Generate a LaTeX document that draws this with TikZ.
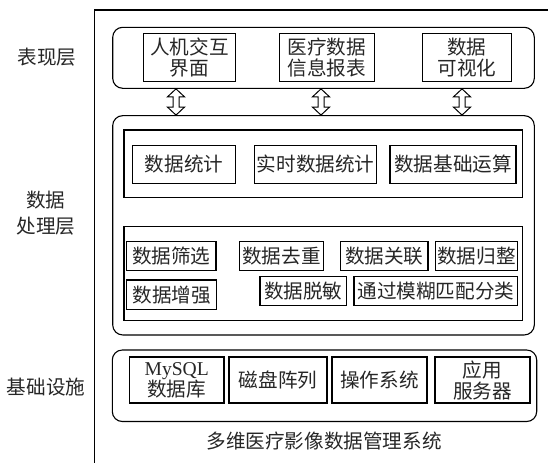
\documentclass[tikz,border=0pt]{standalone}
\usepackage{fontspec}
\setmainfont{Liberation Serif}
\newfontfamily\cjk{Noto Sans CJK SC}
\usetikzlibrary{calc}
\newcommand\dblarrow[3]{%
  \draw[harrow] let \p1=(#1.south), \p2=(#2.north) in
    (#3pt,\y1) -- ++(8.5pt,-8pt) -- ++(-5.5pt,0pt) -- (#3pt+3pt,\y2+8pt)
    -- ++(5.5pt,0pt) -- (#3pt,\y2) -- ++(-8.5pt,8pt) -- ++(5.5pt,0pt)
    -- (#3pt-3pt,\y1-8pt) -- ++(-5.5pt,0pt) -- cycle;}
\begin{document}
\begin{tikzpicture}[x=1pt,y=-1pt,
  lw/.style={line width=1.1pt},
  layerbox/.style={draw, line width=1.1pt, rounded corners=10pt, inner sep=0pt},
  groupbox/.style={draw, line width=1.1pt, inner sep=0pt},
  item/.style={draw, line width=1.1pt, inner sep=0pt, align=center,
    font=\cjk\fontsize{19.6}{21}\selectfont, text=black!85},
  lbl/.style={inner sep=0pt, align=center, font=\cjk\fontsize{19.6}{26}\selectfont, text=black!85},
  harrow/.style={draw, line width=1pt, fill=white, line join=miter}
]
\useasboundingbox (0,0) rectangle (548,463);

% outer frame (only top and left edges visible)
\coordinate (fTR) at (548,10);
\coordinate (fTL) at (94.7,10);
\coordinate (fBL) at (94.7,463);
\draw[lw] (fTR) -- (fTL) -- (fBL);

% layer labels
\node[lbl] (lab1) at (47,57) {表现层};
\node[lbl] (lab2) at (46,213) {数据\\处理层};
\node[lbl] (lab3) at (46,387) {基础设施};

% presentation layer
\node[layerbox, minimum width=421.6pt, minimum height=61pt] (P) at (323.5,57.8) {};
\node[item, minimum width=92.4pt, minimum height=47.7pt] (t1) at (189.5,57.2) {人机交互\\界面};
\node[item, minimum width=94.7pt, minimum height=47.7pt] (t2) at (326.7,57.2) {医疗数据\\信息报表};
\node[item, minimum width=88.3pt, minimum height=47.7pt] (t3) at (466.9,57.2) {数据\\可视化};

% data processing layer
\node[layerbox, minimum width=421.6pt, minimum height=219.3pt] (D) at (323.5,225.3) {};
\node[groupbox, minimum width=398.7pt, minimum height=67.7pt] (R1) at (323.35,163.85) {};
\node[item, minimum width=102.6pt, minimum height=38.3pt] (d1) at (184,164.2) {数据统计};
\node[item, minimum width=122pt, minimum height=38.3pt] (d2) at (315.7,164.2) {实时数据统计};
\node[item, minimum width=126pt, minimum height=38.3pt] (d3) at (453,164.2) {数据基础运算};

\node[groupbox, minimum width=398.7pt, minimum height=94pt] (R2) at (323.35,273.7) {};
\node[item, minimum width=89.3pt, minimum height=29pt] (e1) at (171.35,256.2) {数据筛选};
\node[item, minimum width=83.6pt, minimum height=29pt] (e2) at (281.5,256.2) {数据去重};
\node[item, minimum width=87.3pt, minimum height=29pt] (e3) at (384.35,256.2) {数据关联};
\node[item, minimum width=82.2pt, minimum height=29pt] (e4) at (476.4,256.2) {数据归整};
\node[item, minimum width=90pt, minimum height=29.3pt] (e5) at (171.7,294.65) {数据增强};
\node[item, minimum width=86.7pt, minimum height=29pt] (e6) at (303.35,291.2) {数据脱敏};
\node[item, minimum width=163.7pt, minimum height=29pt] (e7) at (435.85,291.2) {通过模糊匹配分类};

% infrastructure layer
\node[layerbox, minimum width=424.4pt, minimum height=71.5pt] (B) at (324.5,385.75) {};
\node[item, minimum width=94.5pt, minimum height=46pt] (b1) at (176.75,380) {{\rmfamily MySQL}\\数据库};
\node[item, minimum width=98pt, minimum height=46pt] (b2) at (278,380) {磁盘阵列};
\node[item, minimum width=95pt, minimum height=46pt] (b3) at (379.5,380) {操作系统};
\node[item, minimum width=95pt, minimum height=46pt] (b4) at (482.5,380) {应用\\服务器};

% title
\node[lbl] (title) at (324,441) {多维医疗影像数据管理系统};

% hollow double arrows between layers
\dblarrow{P}{D}{176}
\dblarrow{P}{D}{321}
\dblarrow{P}{D}{462}
\end{tikzpicture}
\end{document}
